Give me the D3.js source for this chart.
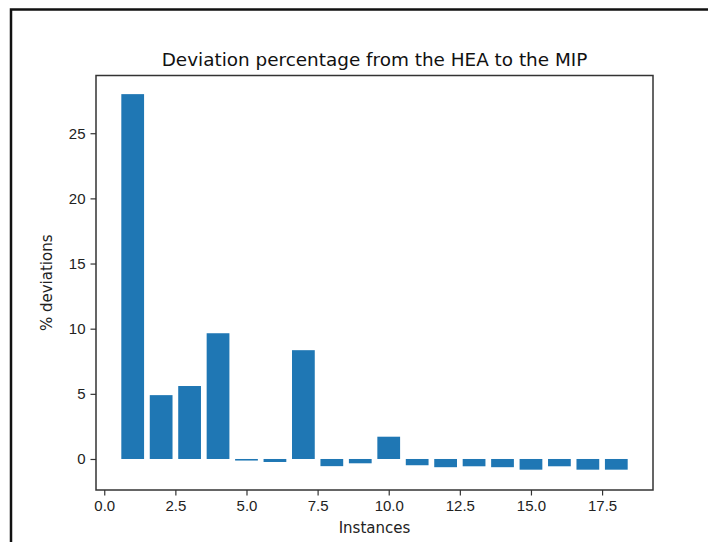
<!DOCTYPE html>
<html>
<head>
<meta charset="utf-8" />
<title>Deviation percentage</title>
<script src="https://cdn.jsdelivr.net/npm/d3@7"></script>
<style>
  html, body { margin: 0; padding: 0; background: #fff; }
  svg { display: block; font-family: "DejaVu Sans", sans-serif; }
  .tick text { font-size: 15px; fill: #222; }
  .tick line { stroke: #333; stroke-width: 1.2; }
</style>
</head>
<body>
<script>
// data
var instances = [1, 2, 3, 4, 5, 6, 7, 8, 9, 10, 11, 12, 13, 14, 15, 16, 17, 18];
var deviations = [28.0, 4.9, 5.6, 9.65, -0.12, -0.23, 8.35, -0.55, -0.33, 1.71,
                  -0.48, -0.63, -0.56, -0.63, -0.82, -0.56, -0.82, -0.82];
var xTicks = [0, 2.5, 5, 7.5, 10, 12.5, 15, 17.5];
var yTicks = [0, 5, 10, 15, 20, 25];

var width = 708, height = 542;
// plot box (window.top is reserved, so use own names)
var boxL = 96, boxR = 653, boxT = 75.5, boxB = 490;

var svg = d3.select('body').append('svg').attr('width', width).attr('height', height);

// outer frame (only top and left visible)
svg.append('path')
  .attr('d', 'M' + width + ',9.5 L11,9.5 L11,' + height)
  .attr('fill', 'none').attr('stroke', '#111').attr('stroke-width', 2.5);

var x = d3.scaleLinear().domain([-0.29, 19.29]).range([boxL, boxR]);
var y = d3.scaleLinear().domain([-2.38, 29.43]).range([boxB, boxT]);
var barW = x(0.8) - x(0);

svg.append('g').selectAll('rect').data(instances).enter().append('rect')
  .attr('x', function(d) { return x(d - 0.4); })
  .attr('width', barW)
  .attr('y', function(d, i) { return y(Math.max(0, deviations[i])); })
  .attr('height', function(d, i) { return Math.abs(y(deviations[i]) - y(0)); })
  .attr('fill', '#1f77b4');

var gx = svg.append('g').attr('transform', 'translate(0,' + boxB + ')')
  .call(d3.axisBottom(x).tickValues(xTicks).tickSize(5.5).tickPadding(5)
    .tickFormat(d3.format('.1f')));
gx.select('.domain').remove();

var gy = svg.append('g').attr('transform', 'translate(' + boxL + ',0)')
  .call(d3.axisLeft(y).tickValues(yTicks).tickSize(5.5).tickPadding(5));
gy.select('.domain').remove();

// axes box
svg.append('rect')
  .attr('x', boxL).attr('y', boxT)
  .attr('width', boxR - boxL).attr('height', boxB - boxT)
  .attr('fill', 'none').attr('stroke', '#333').attr('stroke-width', 1.5);

svg.append('text')
  .attr('x', (boxL + boxR) / 2).attr('y', 66)
  .attr('text-anchor', 'middle').attr('font-size', 18.4).attr('fill', '#111')
  .text('Deviation percentage from the HEA to the MIP');

svg.append('text')
  .attr('x', (boxL + boxR) / 2).attr('y', 533)
  .attr('text-anchor', 'middle').attr('font-size', 15).attr('fill', '#222')
  .text('Instances');

svg.append('text')
  .attr('transform', 'translate(52,' + (boxT + boxB) / 2 + ') rotate(-90)')
  .attr('text-anchor', 'middle').attr('font-size', 15).attr('fill', '#222')
  .text('% deviations');
</script>
</body>
</html>
